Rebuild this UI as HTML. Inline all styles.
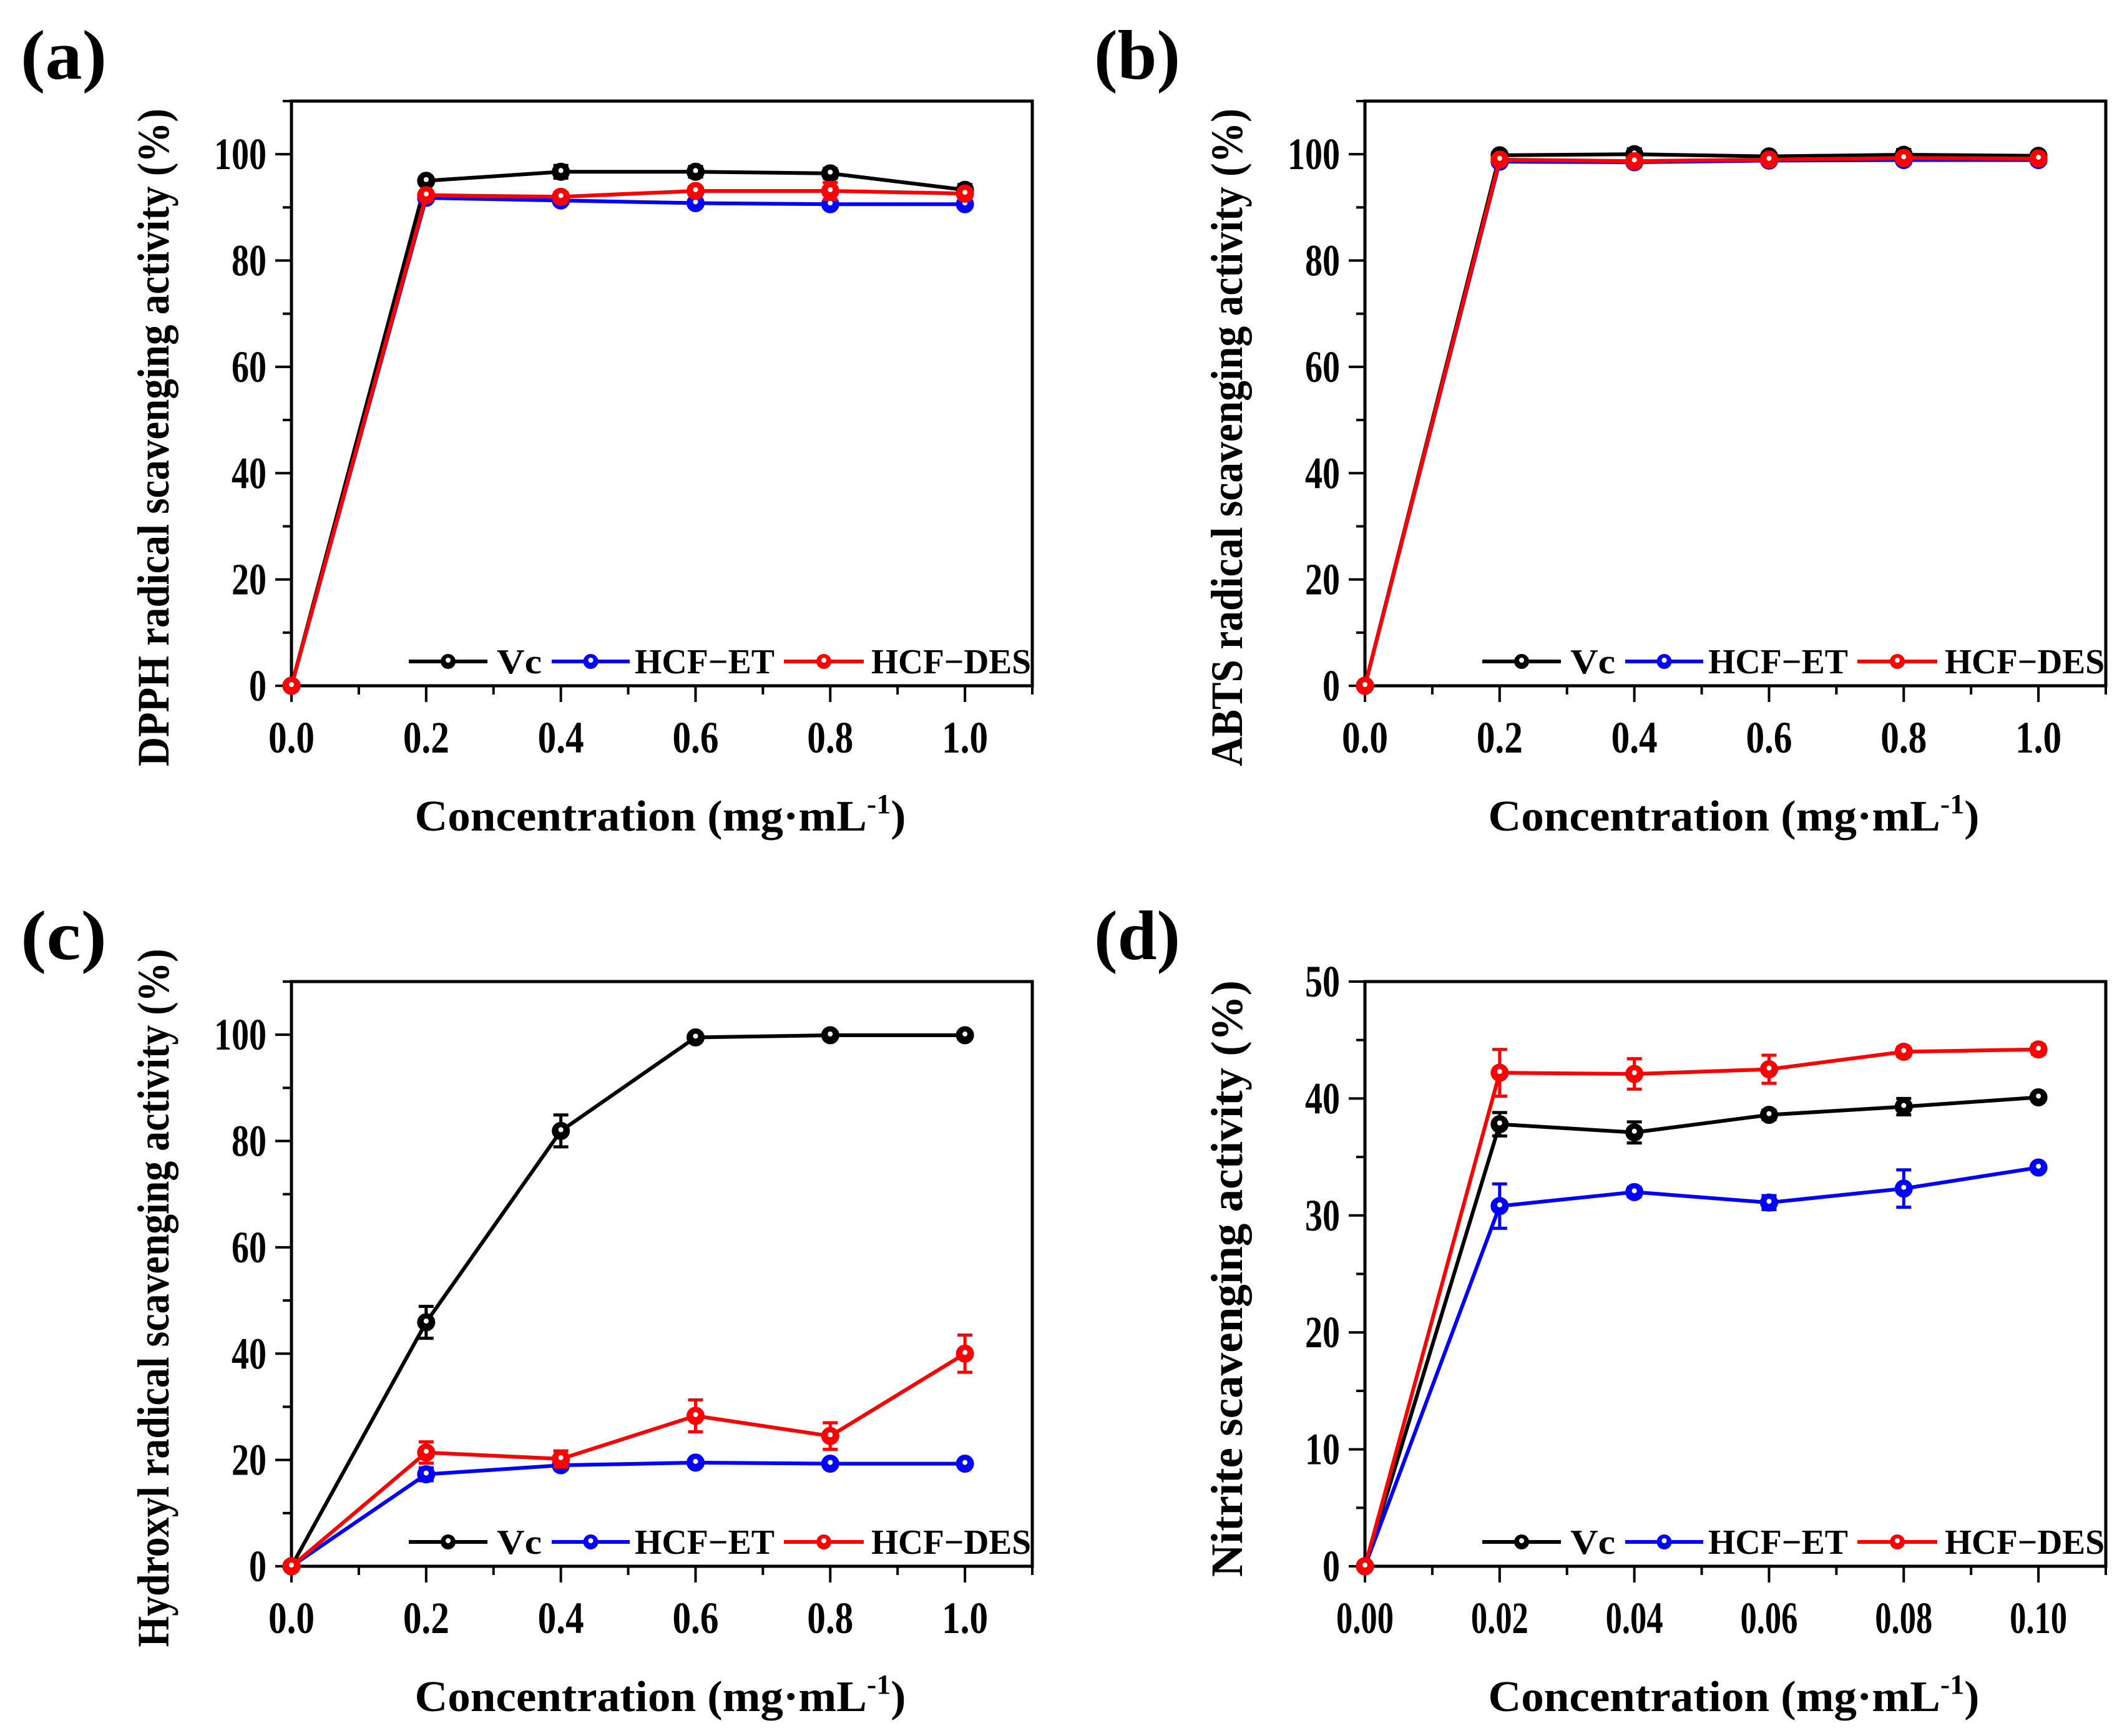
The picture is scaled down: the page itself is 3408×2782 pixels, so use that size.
<!DOCTYPE html>
<html><head><meta charset="utf-8">
<style>
html,body{margin:0;padding:0;background:#fff;}
svg{display:block;font-family:"Liberation Serif",serif;font-weight:bold;}
</style></head>
<body>
<svg id="fig" xmlns="http://www.w3.org/2000/svg" width="3408" height="2782" viewBox="0 0 3408 2782"></svg>
<script>
// ---- data ----
const seriesNames = ["Vc", "HCF\u2212ET", "HCF\u2212DES"];
const seriesColors = ["#000000", "#0000ff", "#ff0000"];
const xA = [0, 0.2, 0.4, 0.6, 0.8, 1.0];
const xD = [0, 0.02, 0.04, 0.06, 0.08, 0.10];
const xTicksA = ["0.0","0.2","0.4","0.6","0.8","1.0"];
const xTicksD = ["0.00","0.02","0.04","0.06","0.08","0.10"];
const yTicksA = ["0","20","40","60","80","100"];
const yTicksD = ["0","10","20","30","40","50"];

const aVc  = [0, 95.0, 96.7, 96.7, 96.4, 93.3];
const aET  = [0, 91.8, 91.3, 90.8, 90.6, 90.6];
const aDES = [0, 92.3, 92.0, 93.1, 93.1, 92.6];
const aVcErr  = [0, 0.5, 1.2, 1.0, 0.9, 1.0];
const aETErr  = [0, 0.6, 0.6, 0.6, 0.5, 0.5];
const aDESErr = [0, 0.6, 0.8, 0.8, 1.6, 0.8];

const bVc  = [0, 99.8, 100.0, 99.6, 99.9, 99.7];
const bET  = [0, 98.6, 98.5, 98.8, 98.9, 98.9];
const bDES = [0, 99.0, 98.7, 99.0, 99.3, 99.2];
const bVcErr  = [0, 0.6, 1.0, 0.5, 1.0, 0.6];
const bETErr  = [0, 0.5, 0.5, 0.5, 0.5, 0.5];
const bDESErr = [0, 0.5, 0.5, 0.5, 0.5, 0.5];

const cVc  = [0, 45.9, 81.9, 99.5, 99.9, 99.9];
const cET  = [0, 17.3, 19.0, 19.5, 19.3, 19.3];
const cDES = [0, 21.4, 20.2, 28.3, 24.5, 40.0];
const cVcErr  = [0, 3.0, 3.0, 0.5, 0.5, 0.5];
const cETErr  = [0, 1.2, 0.8, 0.6, 0.6, 0.6];
const cDESErr = [0, 2.0, 1.5, 3.0, 2.5, 3.5];

const dVc  = [0, 37.8, 37.1, 38.6, 39.3, 40.1];
const dET  = [0, 30.8, 32.0, 31.1, 32.3, 34.1];
const dDES = [0, 42.2, 42.1, 42.5, 44.0, 44.2];
const dVcErr  = [0, 1.0, 0.9, 0.4, 0.7, 0.3];
const dETErr  = [0, 1.9, 0.4, 0.6, 1.6, 0.3];
const dDESErr = [0, 2.0, 1.3, 1.2, 0.4, 0.4];

const NS = "http://www.w3.org/2000/svg";
const svg = document.getElementById("fig");
function mk(tag, attrs, parent){
  const e = document.createElementNS(NS, tag);
  for (const k in attrs) e.setAttribute(k, attrs[k]);
  (parent||svg).appendChild(e);
  return e;
}

function panel(cfg){
  const g = mk("g", {});
  
  
  const L=cfg.L, T=cfg.T, R=cfg.L+1187, B=cfg.T+937;
  const sx = v => L + (v/cfg.xMax)*(R-L);
  const sy = v => B - (v/cfg.yMax)*(B-T);
  const tg = mk("g", {stroke:"#000","stroke-width":4}, g);
  
  
  for (let i=0;i<=cfg.xMinorN;i++){
    const v = i*cfg.xMinorStep, x = sx(v);
    const major = i%2===0 && i/2 < cfg.xTicks.length;
    mk("line",{x1:x,y1:B,x2:x,y2:B+(major?26:14)},tg);
  }
  for (let i=0;i<=cfg.yMinorN;i++){
    const v = i*cfg.yMinorStep, y = sy(v);
    const major = i%2===0 && i/2 < cfg.yTicks.length;
    mk("line",{x1:L,y1:y,x2:L-(major?26:14),y2:y},tg);
  }
  const fr = mk("rect",{x:L,y:T,width:R-L,height:B-T,fill:"none",stroke:"#000","stroke-width":5},g);
  
  
  cfg.xTicks.forEach((t,i)=>{
    const e = mk("text",{x:sx(cfg.xVals[i]),y:1205-1098+B,"text-anchor":"middle","font-size":72,textLength:t.length*23+(t.length>3?0:5),lengthAdjust:"spacingAndGlyphs"},g);
    e.textContent=t;
    
    
  });
  cfg.yTicks.forEach((t,i)=>{
    const v = i*cfg.yMinorStep*2;
    const e = mk("text",{x:L-40,y:sy(v)+24,"text-anchor":"end","font-size":72,textLength:t.length*28,lengthAdjust:"spacingAndGlyphs"},g);
    e.textContent=t;
    
    
  });
  const xt = mk("text",{x:L+591,y:B+232,"text-anchor":"middle","font-size":70,textLength:787,lengthAdjust:"spacingAndGlyphs"},g);
  xt.innerHTML = 'Concentration (mg\u00b7mL<tspan dy="-28" font-size="44">-1</tspan><tspan dy="28">)</tspan>';
  
  
  const yt = mk("text",{x:0,y:0,"text-anchor":"middle","font-size":72,textLength:cfg.yTitleLen,lengthAdjust:"spacingAndGlyphs",transform:`translate(${L-197},${cfg.yTitleC}) rotate(-90)`},g);
  yt.textContent = cfg.yTitle;
  
  
  const pl = mk("text",{x:L-434,y:T-36,"font-size":112,textLength:138,lengthAdjust:"spacingAndGlyphs"},g);
  pl.textContent = cfg.letter;
  
  
  cfg.series.forEach((s,si)=>{
    const sg = mk("g",{},g);
    
    
    const col = seriesColors[si];
    const pts = s.map((v,i)=>sx(cfg.xVals[i])+","+sy(v)).join(" ");
    const pl2 = mk("polyline",{points:pts,fill:"none",stroke:col,"stroke-width":6,"stroke-linejoin":"round"},sg);
    
    
    s.forEach((v,i)=>{
      const x=sx(cfg.xVals[i]), e=cfg.errs[si][i];
      if (e>0){
        const y1=sy(v+e), y2=sy(v-e);
        const eb = mk("path",{d:`M${x},${y1}V${y2}M${x-12},${y1}H${x+12}M${x-12},${y2}H${x+12}`,stroke:col,"stroke-width":5,fill:"none"},sg);
        
        
      }
      const m = mk("circle",{cx:x,cy:sy(v),r:13,fill:col,stroke:col,"stroke-width":3},sg);
      
      
      mk("circle",{cx:x,cy:sy(v)-2,r:4,fill:"#fff"},sg);
    });
  });
  const lg = mk("g",{},g);
  
  
  const ly = B-39;
  const lx = [[188,314,329],[417,542,550],[789,917,929]];
  const lw = [72,224,256];
  seriesNames.forEach((n,i)=>{
    const it = mk("g",{},lg);
    
    
    mk("line",{x1:L+lx[i][0],y1:ly,x2:L+lx[i][1],y2:ly,stroke:seriesColors[i],"stroke-width":6},it);
    mk("circle",{cx:(2*L+lx[i][0]+lx[i][1])/2,cy:ly,r:12,fill:seriesColors[i]},it);
    mk("circle",{cx:(2*L+lx[i][0]+lx[i][1])/2,cy:ly-2,r:4,fill:"#fff"},it);
    const t = mk("text",{x:L+lx[i][2],y:ly+19,"font-size":56,textLength:lw[i],lengthAdjust:"spacingAndGlyphs"},it);
    t.textContent = n;
  });
}

panel({name:"panel-a-dpph",letter:"(a)",L:467,T:162,xMax:1.1,yMax:110,xVals:xA,xTicks:xTicksA,xMinorN:11,xMinorStep:0.1,yTicks:yTicksA,yMinorN:11,yMinorStep:10,
  yTitle:"DPPH radical scavenging activity (%)",yTitleLen:1054,yTitleC:701,
  series:[aVc,aET,aDES],errs:[aVcErr,aETErr,aDESErr]});
panel({name:"panel-b-abts",letter:"(b)",L:2187,T:162,xMax:1.1,yMax:110,xVals:xA,xTicks:xTicksA,xMinorN:11,xMinorStep:0.1,yTicks:yTicksA,yMinorN:11,yMinorStep:10,
  yTitle:"ABTS radical scavenging activity (%)",yTitleLen:1054,yTitleC:701,
  series:[bVc,bET,bDES],errs:[bVcErr,bETErr,bDESErr]});
panel({name:"panel-c-hydroxyl",letter:"(c)",L:467,T:1573,xMax:1.1,yMax:110,xVals:xA,xTicks:xTicksA,xMinorN:11,xMinorStep:0.1,yTicks:yTicksA,yMinorN:11,yMinorStep:10,
  yTitle:"Hydroxyl radical scavenging activity (%)",yTitleLen:1119,yTitleC:2080,
  series:[cVc,cET,cDES],errs:[cVcErr,cETErr,cDESErr]});
panel({name:"panel-d-nitrite",letter:"(d)",L:2187,T:1573,xMax:0.11,yMax:50,xVals:xD,xTicks:xTicksD,xMinorN:11,xMinorStep:0.01,yTicks:yTicksD,yMinorN:10,yMinorStep:5,
  yTitle:"Nitrite scavenging activity (%)",yTitleLen:956,yTitleC:2049,
  series:[dVc,dET,dDES],errs:[dVcErr,dETErr,dDESErr]});
</script>
</body></html>
